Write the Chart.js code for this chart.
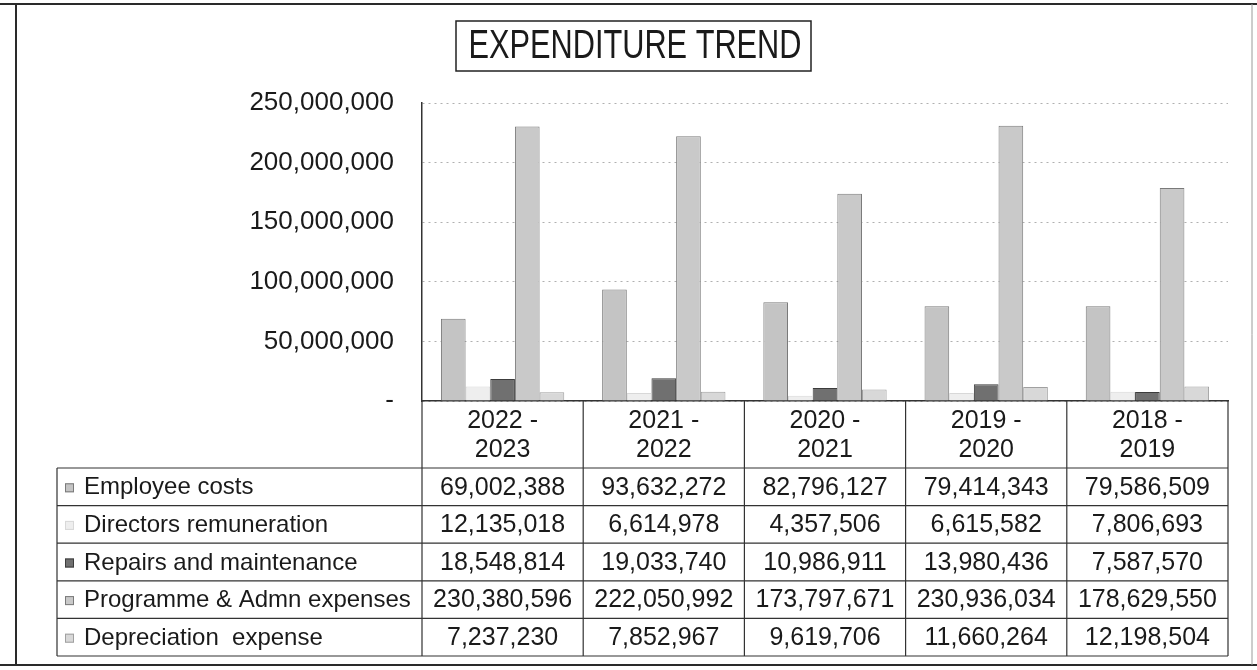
<!DOCTYPE html>
<html>
<head>
<meta charset="utf-8">
<script src="https://cdn.jsdelivr.net/npm/chart.js@4.4.1/dist/chart.umd.min.js"></script>
<style>
  html, body { margin: 0; padding: 0; background: #fff; }
  #wrap { width: 1257px; height: 670px; position: relative; }
</style>
</head>
<body>
<div id="wrap"><canvas id="c" width="1257" height="670"></canvas></div>
<script>
const categories = [['2022 -', '2023'], ['2021 -', '2022'], ['2020 -', '2021'], ['2019 -', '2020'], ['2018 -', '2019']];
const seriesNames = ['Employee costs', 'Directors remuneration', 'Repairs and maintenance', 'Programme & Admn expenses', 'Depreciation  expense'];
const employeeCosts = [69002388, 93632272, 82796127, 79414343, 79586509];
const directorsRemuneration = [12135018, 6614978, 4357506, 6615582, 7806693];
const repairsMaintenance = [18548814, 19033740, 10986911, 13980436, 7587570];
const programmeAdmn = [230380596, 222050992, 173797671, 230936034, 178629550];
const depreciation = [7237230, 7852967, 9619706, 11660264, 12198504];
const yTicks = [0, 50000000, 100000000, 150000000, 200000000, 250000000];
const chartTitle = 'EXPENDITURE TREND';

const seriesValues = [employeeCosts, directorsRemuneration, repairsMaintenance, programmeAdmn, depreciation];
const fills = ['#c4c4c4', '#eeeeee', '#707070', '#c9c9c9', '#d8d8d8'];
const borders = ['#7a7a7a', '#d8d8d8', '#3c3c3c', '#7a7a7a', '#a0a0a0'];
const FONT = '"Liberation Sans", Arial, sans-serif';
const fmt = v => v.toLocaleString('en-US');

const PLOT_TOP = 103, PLOT_BOTTOM = 401, PLOT_LEFT = 422, PLOT_RIGHT = 1228;
const TABLE_LEFT = 57, HEADER_BOTTOM = 468, ROW_H = 37.6;

const decorPlugin = {
  id: 'decor',
  afterDraw(chart) {
    const ctx = chart.ctx;
    const xs = chart.scales.x;
    ctx.save();
    // outer frame
    ctx.strokeStyle = '#2a2a2a';
    ctx.lineWidth = 2;
    ctx.beginPath();
    ctx.moveTo(0, 4); ctx.lineTo(1257, 4);
    ctx.moveTo(16, 4); ctx.lineTo(16, 665);
    ctx.moveTo(0, 665); ctx.lineTo(1257, 665);
    ctx.stroke();
    ctx.lineWidth = 1;
    ctx.strokeStyle = '#9a9a9a';
    ctx.beginPath();
    ctx.moveTo(1252, 4); ctx.lineTo(1252, 665);
    ctx.stroke();

    // title with box
    ctx.font = '40px ' + FONT;
    ctx.fillStyle = '#1a1a1a';
    ctx.textAlign = 'center';
    ctx.textBaseline = 'middle';
    const tx = 635, ty = 47;
    ctx.fillText(chartTitle, tx, ty, 333);
    ctx.lineWidth = 1.5;
    ctx.strokeStyle = '#222';
    ctx.strokeRect(456, 21, 355, 50);

    // data table
    const n = categories.length;
    const colW = (xs.right - xs.left) / n;
    const bounds = [];
    for (let i = 0; i <= n; i++) bounds.push(xs.left + i * colW);
    const tableBottom = HEADER_BOTTOM + ROW_H * seriesNames.length;
    ctx.strokeStyle = '#333';
    ctx.lineWidth = 1.2;
    ctx.beginPath();
    bounds.forEach(b => { ctx.moveTo(b, PLOT_BOTTOM); ctx.lineTo(b, tableBottom); });
    ctx.moveTo(TABLE_LEFT, HEADER_BOTTOM); ctx.lineTo(TABLE_LEFT, tableBottom);
    for (let r = 0; r <= seriesNames.length; r++) {
      const y = HEADER_BOTTOM + r * ROW_H;
      ctx.moveTo(TABLE_LEFT, y); ctx.lineTo(bounds[n], y);
    }
    ctx.stroke();

    // header labels
    ctx.fillStyle = '#1a1a1a';
    ctx.font = '25px ' + FONT;
    ctx.textAlign = 'center';
    categories.forEach((lab, i) => {
      const cx = xs.getPixelForValue(i);
      ctx.fillText(lab[0], cx, 421);
      ctx.fillText(lab[1], cx, 450);
    });

    // rows
    seriesNames.forEach((name, r) => {
      const cy = HEADER_BOTTOM + r * ROW_H + ROW_H / 2 + 1;
      ctx.fillStyle = fills[r];
      ctx.fillRect(65, cy - 4.5, 9, 9);
      ctx.strokeStyle = borders[r];
      ctx.lineWidth = 1;
      ctx.strokeRect(65.5, cy - 4, 8, 8);
      ctx.fillStyle = '#1a1a1a';
      ctx.textAlign = 'left';
      ctx.font = '24px ' + FONT;
      ctx.fillText(name, 84, cy);
      ctx.textAlign = 'center';
      ctx.font = '25px ' + FONT;
      seriesValues[r].forEach((v, i) => {
        ctx.fillText(fmt(v), xs.getPixelForValue(i), cy);
      });
    });
    ctx.restore();
  }
};

new Chart(document.getElementById('c'), {
  type: 'bar',
  data: {
    labels: categories.map(c => c.join(' ')),
    datasets: seriesNames.map((name, i) => ({
      label: name,
      data: seriesValues[i],
      backgroundColor: fills[i],
      borderColor: borders[i],
      borderWidth: 1,
      categoryPercentage: 0.765,
      barPercentage: 1.0
    }))
  },
  options: {
    responsive: false,
    animation: false,
    layout: { padding: { top: PLOT_TOP, right: 1257 - PLOT_RIGHT, left: 0, bottom: 0 } },
    plugins: {
      legend: { display: false },
      title: { display: false },
      tooltip: { enabled: false }
    },
    scales: {
      x: {
        ticks: { display: false },
        grid: { display: false, drawTicks: false },
        border: { display: true, color: '#333', width: 1.5 },
        afterFit: s => { s.height = 670 - PLOT_BOTTOM; }
      },
      y: {
        min: 0,
        max: 250000000,
        afterBuildTicks: s => { s.ticks = yTicks.map(v => ({ value: v })); },
        afterFit: s => { s.width = PLOT_LEFT; },
        ticks: {
          padding: 28,
          color: '#1a1a1a',
          font: { family: FONT, size: 26 },
          callback: v => (v === 0 ? '-' : fmt(v))
        },
        grid: {
          drawTicks: false,
          color: '#b0b0b0',
          lineWidth: 1
        },
        border: { display: true, color: '#333', width: 1.5, dash: [2, 4] }
      }
    }
  },
  plugins: [decorPlugin]
});
</script>
</body>
</html>
